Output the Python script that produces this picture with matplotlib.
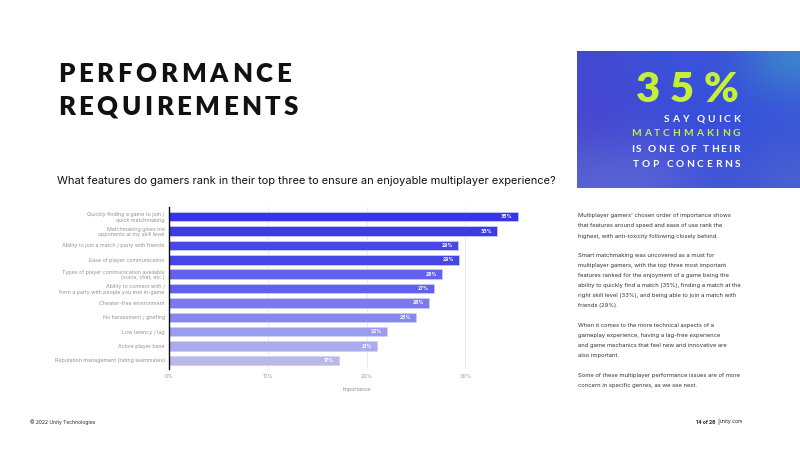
import matplotlib
matplotlib.use('Agg')
import matplotlib.pyplot as plt
from matplotlib.colors import to_rgb
import numpy as np


FEATURES = [
    'Quickly finding a game to join /\nquick matchmaking',
    'Matchmaking gives me\nopponents at my skill level',
    'Ability to join a match / party with friends',
    'Ease of player communication',
    'Types of player communication available\n(voice, chat, etc.)',
    'Ability to connect with /\nform a party with people you met in-game',
    'Cheater-free environment',
    'No harassment / griefing',
    'Low latency / lag',
    'Active player base',
    'Reputation management (rating teammates)',
]
SHARE = [35.3, 33.2, 29.3, 29.4, 27.6, 26.8, 26.3, 25.0, 22.1, 21.1, 17.2]
SHARE_LABELS = ['35%', '33%', '29%', '29%', '28%', '27%', '26%', '25%', '22%', '21%', '17%']
BAR_COLORS = ['#3636e6', '#3b3be6', '#4848e8', '#4646e6', '#6262ec', '#6060ea',
              '#7a7aee', '#8787ee', '#9c9cee', '#aaaaee', '#b8b8ea']
XTICKS = [0, 10, 20, 30]

BODY = [
    "Multiplayer gamers' chosen order of importance shows",
    "that features around speed and ease of use rank the",
    "highest, with anti-toxicity following closely behind.",
    "",
    "Smart matchmaking was uncovered as a must for",
    "multiplayer gamers, with the top three most important",
    "features ranked for the enjoyment of a game being the",
    "ability to quickly find a match (35%), finding a match at the",
    "right skill level (33%), and being able to join a match with",
    "friends (29%).",
    "",
    "When it comes to the more technical aspects of a",
    "gameplay experience, having a lag-free experience",
    "and game mechanics that feel new and innovative are",
    "also important.",
    "",
    "Some of these multiplayer performance issues are of more",
    "concern in specific genres, as we see next.",
]

W, H = 800, 450
LIME = '#c6ef38'


def fx(px):
    return px / W


def fy(py):
    return 1 - py / H


def tracked(fig, x, y, s, width=None, track=0.0, ha='left', **kw):
    # matplotlib has no letter-spacing, so lay the glyphs out one by one
    r = fig.canvas.get_renderer()
    base = fig.text(0, 0, 'II', **kw)
    wb = base.get_window_extent(r).width
    base.remove()
    widths = []
    for ch in s:
        t = fig.text(0, 0, 'I' + ch + 'I', **kw)
        widths.append(t.get_window_extent(r).width - wb)
        t.remove()
    if width is not None:
        track = (width - sum(widths)) / (len(s) - 1)
    total = sum(widths) + track * (len(s) - 1)
    x0 = x if ha == 'left' else x - total
    for ch, cw in zip(s, widths):
        fig.text(fx(x0), fy(y), ch, ha='left', va='baseline', **kw)
        x0 += cw + track


fig = plt.figure(figsize=(8, 4.5), dpi=100)
fig.canvas.draw()

# titles
title_kw = dict(family='Lato', weight='heavy', fontsize=18.5, color='#111111')
tracked(fig, 58, 81.7, 'PERFORMANCE', width=233, **title_kw)
tracked(fig, 58, 115, 'REQUIREMENTS', width=240, **title_kw)
fig.text(fx(57), fy(184), 'What features do gamers rank in their top three to ensure an '
         'enjoyable multiplayer experience?', family='Inter', fontsize=7.95,
         color='#111111', va='baseline')

# chart
ax = fig.add_axes([fx(169), fy(369), fx(544.4 - 169), (369 - 207) / H])
y = np.arange(len(FEATURES))
bars = ax.barh(y, SHARE, height=0.66, color=BAR_COLORS, edgecolor='#d0d0f6',
               linewidth=0.5, zorder=3)
for b, lab in zip(bars, SHARE_LABELS):
    ax.annotate(lab, (b.get_width(), b.get_y() + b.get_height() / 2),
                xytext=(-3.5, 0), textcoords='offset points', ha='right', va='center',
                fontsize=3.6, color='white', weight='bold', family='Inter', zorder=4)
ax.set_xlim(0, 38)
ax.set_ylim(len(FEATURES) - 0.4, -0.675)
ax.set_yticks(y)
ax.set_yticklabels(FEATURES, fontsize=3.8, color='#929292', family='Inter', linespacing=1.15)
ax.set_xticks(XTICKS)
ax.set_xticklabels([f'{t}%' for t in XTICKS], fontsize=3.8, color='#9a9a9a', family='Inter')
ax.tick_params(length=0, pad=3.5)
ax.tick_params(axis='y', pad=3)
ax.grid(axis='x', color='#e8e8e8', linewidth=0.6, zorder=0)
for side in ['top', 'right', 'bottom']:
    ax.spines[side].set_visible(False)
ax.spines['left'].set_linewidth(1.0)
ax.spines['left'].set_color('#111111')
ax.spines['left'].set_zorder(5)
ax.set_xlabel('Importance', fontsize=3.8, color='#8a8a8a', family='Inter', labelpad=6)

# callout box
box = fig.add_axes([fx(577), fy(188), fx(W - 577), (188 - 51) / H])
grid = [['#4448d0', '#3c50d8', '#3a52da', '#3a52d8', '#3c86cc'],
        ['#4646cf', '#3f4cd6', '#3a4fda', '#3450dc', '#3a58d8'],
        ['#4a4ccf', '#4550d6', '#3a4ed8', '#3650dc', '#3c58d6'],
        ['#5862d0', '#5a66d6', '#4a58d8', '#4055d8', '#4a60d2']]
img = np.array([[to_rgb(c) for c in row] for row in grid])
box.imshow(img, aspect='auto', interpolation='bicubic', extent=[0, 1, 0, 1])
box.set_axis_off()

tracked(fig, 738, 101.7, '35%', width=102, ha='right', family='Lato', weight='heavy',
        fontsize=30, color=LIME)
small_kw = dict(family='Lato', weight='bold', fontsize=7.3)
tracked(fig, 740, 121.5, 'SAY QUICK', width=76, ha='right', color='white', **small_kw)
tracked(fig, 740, 136.5, 'MATCHMAKING', width=109, ha='right', color=LIME, **small_kw)
tracked(fig, 740, 152, 'IS ONE OF THEIR', width=109, ha='right', color='white', **small_kw)
tracked(fig, 740, 167, 'TOP CONCERNS', width=107, ha='right', color='white', **small_kw)

# body copy
for i, line in enumerate(BODY):
    fig.text(fx(578), fy(216 + 10 * i), line, family='Inter', fontsize=4.2,
             color='#333333', va='center')

# footer
fig.text(fx(30), fy(422), '\u00a9 2022 Unity Technologies', family='Inter', fontsize=3.6,
         color='#222222', va='center')
fig.text(fx(715), fy(422), '14 of 26', family='Inter', fontsize=3.6, weight='bold',
         color='#222222', va='center', ha='right')
fig.text(fx(717), fy(422), '|', family='Inter', fontsize=4.2, color='#222222', va='center')
fig.text(fx(720), fy(422), 'unity.com', family='Inter', fontsize=3.6, color='#222222',
         va='center')

fig.savefig('out.png', dpi=100)
